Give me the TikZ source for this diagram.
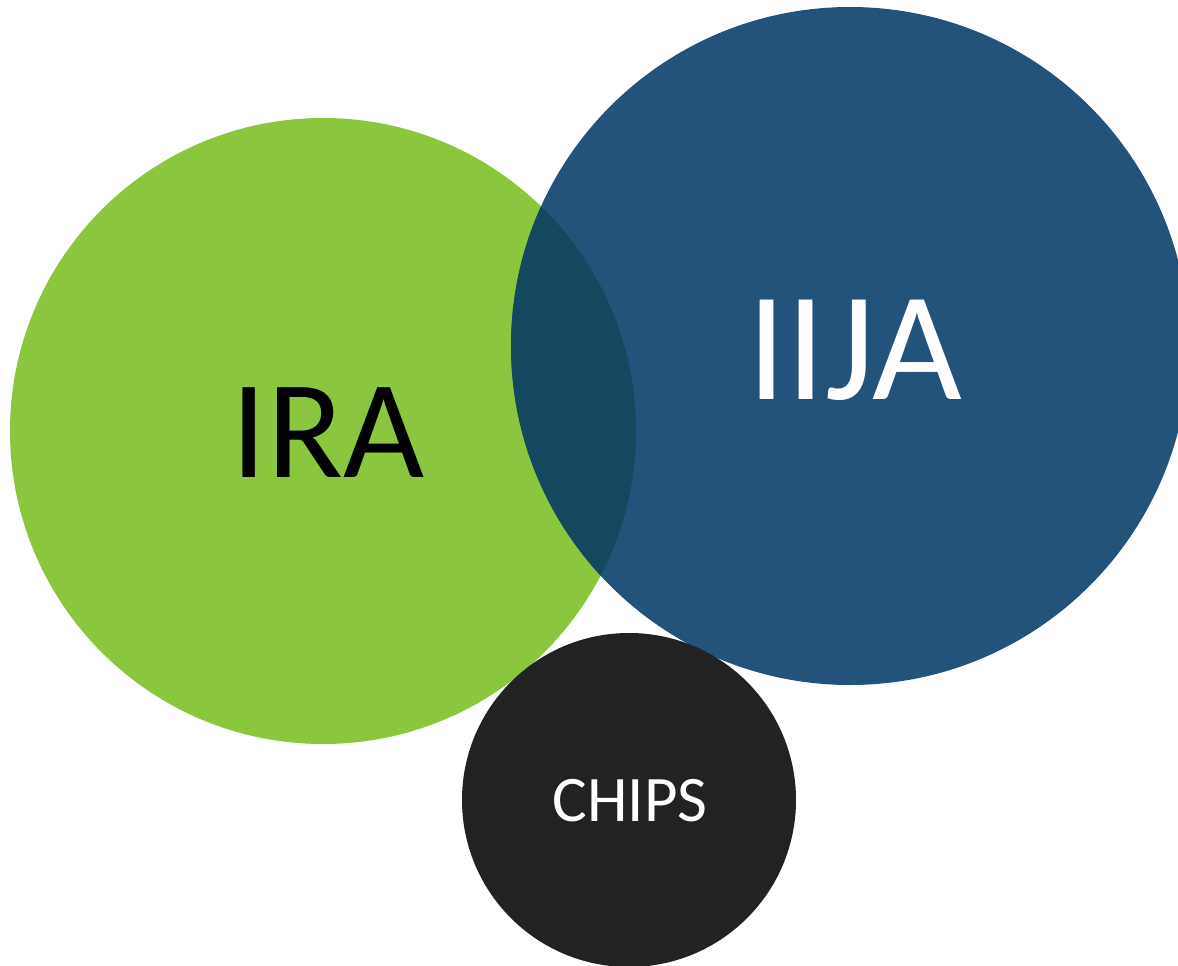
\documentclass[tikz,border=0pt]{standalone}
\usepackage{fontspec}
\setmainfont{Carlito}
\definecolor{iragreen}{HTML}{8BC63F}
\definecolor{iijablue}{HTML}{23527B}
\definecolor{lensteal}{HTML}{13485E}
\definecolor{chipsblack}{HTML}{222222}
\begin{document}
\begin{tikzpicture}[x=1pt,y=-1pt]
\useasboundingbox (0,0) rectangle (1178,966);
\clip (0,0) rectangle (1178,966);
\fill[iragreen] (323,431) circle[radius=313];
\fill[iijablue] (850,346) circle[radius=339];
\begin{scope}
\clip (323,431) circle[radius=313];
\fill[lensteal] (850,346) circle[radius=339];
\end{scope}
\fill[chipsblack] (629,800) circle[radius=167];
\node[text=black,font=\fontsize{140}{140}\selectfont,inner sep=0pt] (ira) at (328,433) {IRA};
\node[text=white,font=\fontsize{155}{155}\selectfont,inner sep=0pt] (iija) at (855,350) {IIJA};
\node[text=white,font=\fontsize{65}{65}\selectfont,inner sep=0pt] (chips) at (630,801) {CHIPS};
\end{tikzpicture}
\end{document}
